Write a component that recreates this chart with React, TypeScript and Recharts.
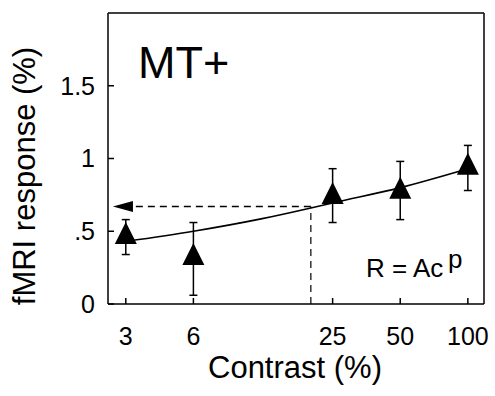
import { ComposedChart, Line, Scatter, ErrorBar, XAxis, YAxis, ReferenceLine, ReferenceDot, Customized } from "recharts";

const contrasts = [3, 6, 25, 50, 100];
const responses = [0.474, 0.33, 0.75, 0.785, 0.95];
const errLow = [0.34, 0.06, 0.56, 0.58, 0.78];
const errHigh = [0.58, 0.56, 0.93, 0.98, 1.09];

// power-law fit R = Ac^p
const fitContrast = [3, 6, 12, 20, 25, 50, 100];
const fitResponse = [0.43, 0.5, 0.585, 0.66, 0.695, 0.8, 0.93];

const xTicks = [3, 6, 25, 50, 100];
const yTicks = [0, 0.5, 1, 1.5];

// threshold marker: contrast giving response level
const markC = 20;
const markR = 0.67;
const arrowTipC = 2.63;

const FONT = "'Liberation Sans', Arial, Helvetica, sans-serif";

const points = contrasts.map((c, i) => ({
  c,
  r: responses[i],
  err: [responses[i] - errLow[i], errHigh[i] - responses[i]],
}));
const curve = fitContrast.map((c, i) => ({ c, r: fitResponse[i] }));

const fmtY = (v: number) => (v === 0.5 ? ".5" : String(v));

const Triangle = (props: any) => {
  const { cx, cy } = props;
  if (cx == null || cy == null) return null;
  return <polygon points={`${cx},${cy - 13} ${cx - 11},${cy + 9} ${cx + 11},${cy + 9}`} fill="#000" />;
};

const ArrowHead = (props: any) => {
  const { cx, cy } = props;
  if (cx == null || cy == null) return null;
  return <polygon points={`${cx},${cy} ${cx + 20},${cy - 5.5} ${cx + 20},${cy + 5.5}`} fill="#000" />;
};

const Annotations = () => (
  <g fontFamily={FONT} fill="#000">
    <text x={138} y={78} fontSize={45}>MT+</text>
    <text x={366} y={277} fontSize={26}>R = Ac</text>
    <text x={448} y={268} fontSize={26}>p</text>
    <text x={295} y={378} fontSize={31} textAnchor="middle">Contrast (%)</text>
    <text x={35} y={176} fontSize={31} textAnchor="middle" transform="rotate(-90, 35, 176)">
      fMRI response (%)
    </text>
  </g>
);

export default function App() {
  const tickStyle = { fontSize: 25, fill: "#000", fontFamily: FONT };
  return (
    <div style={{ position: "absolute", left: 0, top: 0, background: "#fff" }}>
      <ComposedChart width={495} height={396} margin={{ top: 0, right: 0, bottom: 0, left: 0 }}>
        <XAxis
          xAxisId="b"
          dataKey="c"
          type="number"
          scale="log"
          domain={[2.5, 118]}
          allowDataOverflow
          ticks={xTicks}
          orientation="bottom"
          height={92}
          stroke="#000"
          strokeWidth={1.5}
          tickSize={-6}
          tickMargin={29}
          tick={tickStyle}
        />
        <XAxis
          xAxisId="t"
          dataKey="c"
          type="number"
          scale="log"
          domain={[2.5, 118]}
          allowDataOverflow
          ticks={xTicks}
          orientation="top"
          height={13}
          stroke="#000"
          strokeWidth={1.5}
          tickSize={-6}
          tick={false}
        />
        <YAxis
          yAxisId="l"
          type="number"
          domain={[0, 2]}
          ticks={yTicks}
          width={108}
          stroke="#000"
          strokeWidth={1.5}
          tickSize={-6}
          tickMargin={19}
          tickFormatter={fmtY}
          tick={tickStyle}
        />
        <YAxis
          yAxisId="r"
          orientation="right"
          type="number"
          domain={[0, 2]}
          ticks={yTicks}
          width={11}
          stroke="#000"
          strokeWidth={1.5}
          tickSize={-6}
          tick={false}
        />
        <ReferenceLine
          xAxisId="b"
          yAxisId="l"
          segment={[{ x: markC, y: 0 }, { x: markC, y: markR }]}
          stroke="#000"
          strokeWidth={1.2}
          strokeDasharray="7 5"
        />
        <ReferenceLine
          xAxisId="b"
          yAxisId="l"
          segment={[{ x: markC, y: markR }, { x: 3.1, y: markR }]}
          stroke="#000"
          strokeWidth={1.5}
          strokeDasharray="7 5"
        />
        <ReferenceDot xAxisId="b" yAxisId="l" x={arrowTipC} y={markR} shape={<ArrowHead />} />
        <Line
          xAxisId="b"
          yAxisId="l"
          data={curve}
          dataKey="r"
          type="monotone"
          stroke="#000"
          strokeWidth={1.6}
          dot={false}
          isAnimationActive={false}
        />
        <Scatter xAxisId="b" yAxisId="l" data={points} dataKey="r" shape={<Triangle />} isAnimationActive={false}>
          <ErrorBar dataKey="err" direction="y" width={4} stroke="#000" strokeWidth={1.5} isAnimationActive={false} />
        </Scatter>
        <Customized component={Annotations} />
      </ComposedChart>
    </div>
  );
}
